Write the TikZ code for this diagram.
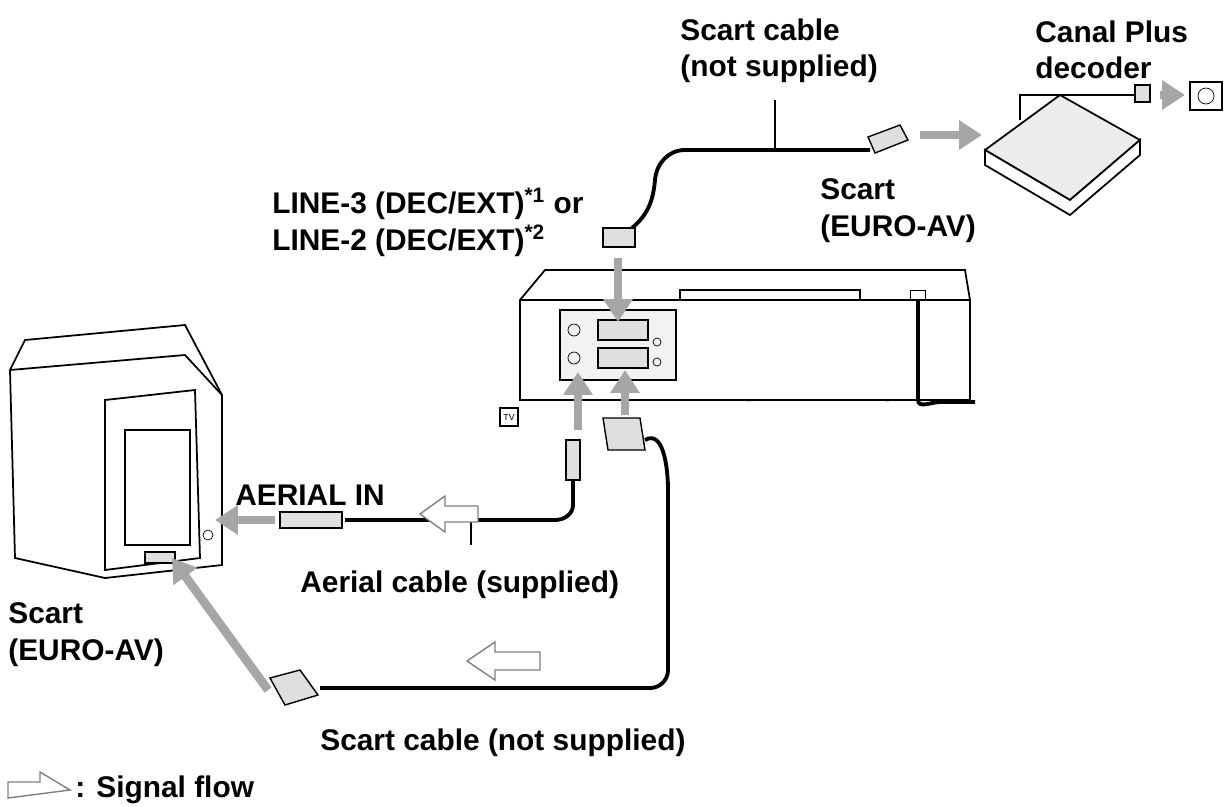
\documentclass[tikz,border=0pt]{standalone}
\usepackage{fontspec}
\setmainfont{Liberation Sans}
\usetikzlibrary{calc}
\usetikzlibrary{arrows.meta}
\begin{document}
\begin{tikzpicture}[x=0.02cm,y=-0.02cm,
    lbl/.style={font=\fontsize{17}{21}\selectfont\bfseries,align=left,anchor=north west,inner sep=0pt},
    cable/.style={line width=2.2pt,black},
    feed/.style={line width=5pt,gray!70,-{Triangle[length=13pt,width=16pt]}},
    flow/.style={draw=gray,fill=white,line width=0.8pt},
    plugbox/.style={draw,fill=gray!25,line width=0.8pt}]
    \useasboundingbox (0,0) rectangle (1232,806);

    % texts
    \node[lbl] (cabletop) at (680,18) {Scart cable\\(not supplied)};
    \node[lbl] (decoder) at (1035,20) {Canal Plus\\decoder};
    \node[lbl] (line3) at (272,188) {LINE-3 (DEC/EXT)\textsuperscript{*1} or\\LINE-2 (DEC/EXT)\textsuperscript{*2}};
    \node[lbl] (scarttop) at (820,178) {Scart\\(EURO-AV)};
    \node[lbl] (line1) at (638,373) {LINE-1 (EURO AV)};
    \node[lbl] (aerialin) at (235,485) {AERIAL IN};
    \node[lbl] (aerialcable) at (300,570) {Aerial cable (supplied)};
    \node[lbl] (scartleft) at (8,602) {Scart\\(EURO-AV)};
    \node[lbl] (cablebot) at (320,728) {Scart cable (not supplied)};
    \node[lbl] (legend) at (75,775) {: Signal flow};

    % VCR
    \draw[line width=1pt,fill=white] (520,300) -- (545,270) -- (965,270) -- (970,300) -- (970,400) -- (520,400) -- cycle;
    \draw[line width=1pt] (520,300) -- (970,300);
    \draw[line width=0.8pt] (680,300) -- (680,290) -- (860,290) -- (860,300);
    \draw[line width=0.8pt,fill=gray!10] (560,310) rectangle (676,380);
    \draw[plugbox] (598,320) rectangle (648,340);
    \draw[plugbox] (598,348) rectangle (648,368);
    \draw (574,330) circle (6) (574,358) circle (6) (657,342) circle (4) (657,362) circle (4);
    \draw (910,290) rectangle (925,300);
    \draw[cable] (918,300) -- (918,400) to[out=-90,in=180] (940,402) -- (975,402);
    \draw[line width=0.8pt] (500,408) rectangle (518,426) node[midway,font=\tiny] {TV};

    % decoder
    \draw[line width=1pt,fill=gray!15] (985,150) -- (1060,95) -- (1140,140) -- (1070,200) -- cycle;
    \draw[line width=1pt,fill=white] (985,150) -- (985,165) -- (1070,215) -- (1140,155) -- (1140,140) -- (1070,200) -- cycle;
    \draw[cable,line width=1.5pt] (1020,120) -- (1020,95) -- (1138,95);
    \draw[plugbox] (1135,85) rectangle (1150,102);
    \draw[feed] (1160,95) -- (1185,95);
    \draw[line width=0.8pt] (1190,82) rectangle (1222,110);
    \draw (1206,96) circle (8);

    % top scart cable
    \draw[cable] (632,228) to[out=40,in=-95] (655,180) to[out=85,in=180] (685,150) -- (870,150);
    \draw[plugbox] (603,228) rectangle (635,247);
    \draw[plugbox] (868,137) -- (900,125) -- (908,140) -- (875,153) -- cycle;
    \draw[line width=0.8pt] (775,150) -- (775,100);
    \draw[feed] (618,258) -- (618,322);
    \draw[feed] (920,135) -- (982,135);

    % TV
    \draw[line width=1pt,fill=white] (25,340) -- (185,325) -- (222,395) -- (222,565) -- (105,578) -- (15,558) -- (10,370) -- cycle;
    \draw[line width=1pt] (10,370) -- (185,355) -- (222,395);
    \draw[line width=1pt] (105,400) -- (195,390) -- (200,558) -- (105,570) -- cycle;
    \draw[line width=0.8pt] (125,430) rectangle (190,545);
    \draw[plugbox] (145,552) rectangle (175,563);
    \draw (208,535) circle (5);

    % aerial cable
    \draw[feed] (578,430) -- (578,372);
    \draw[plugbox] (566,440) rectangle (580,480);
    \draw[cable] (573,480) -- (573,505) to[out=-90,in=0] (555,520) -- (345,520);
    \draw[plugbox] (280,512) rectangle (342,528);
    \draw[line width=0.8pt] (471,520) -- (471,545);
    \draw[feed] (275,520) -- (215,520);
    \draw[flow] (478,506) -- (445,506) -- (445,496) -- (420,514) -- (445,532) -- (445,522) -- (478,522) -- cycle;

    % bottom scart cable
    \draw[feed] (625,415) -- (625,370);
    \draw[plugbox] (603,418) -- (640,418) -- (645,450) -- (608,450) -- cycle;
    \draw[cable] (645,440) to[out=30,in=90] (668,490) -- (668,670) to[out=-90,in=0] (650,688) -- (320,688);
    \draw[plugbox] (270,678) -- (300,670) -- (318,695) -- (285,705) -- cycle;
    \draw[feed] (268,690) -- (172,558);
    \draw[flow] (540,652) -- (495,652) -- (495,642) -- (467,661) -- (495,680) -- (495,670) -- (540,670) -- cycle;

    % legend
    \draw[flow] (8,782) -- (40,782) -- (40,772) -- (70,790) -- (8,798) -- cycle;
\end{tikzpicture}
\end{document}
